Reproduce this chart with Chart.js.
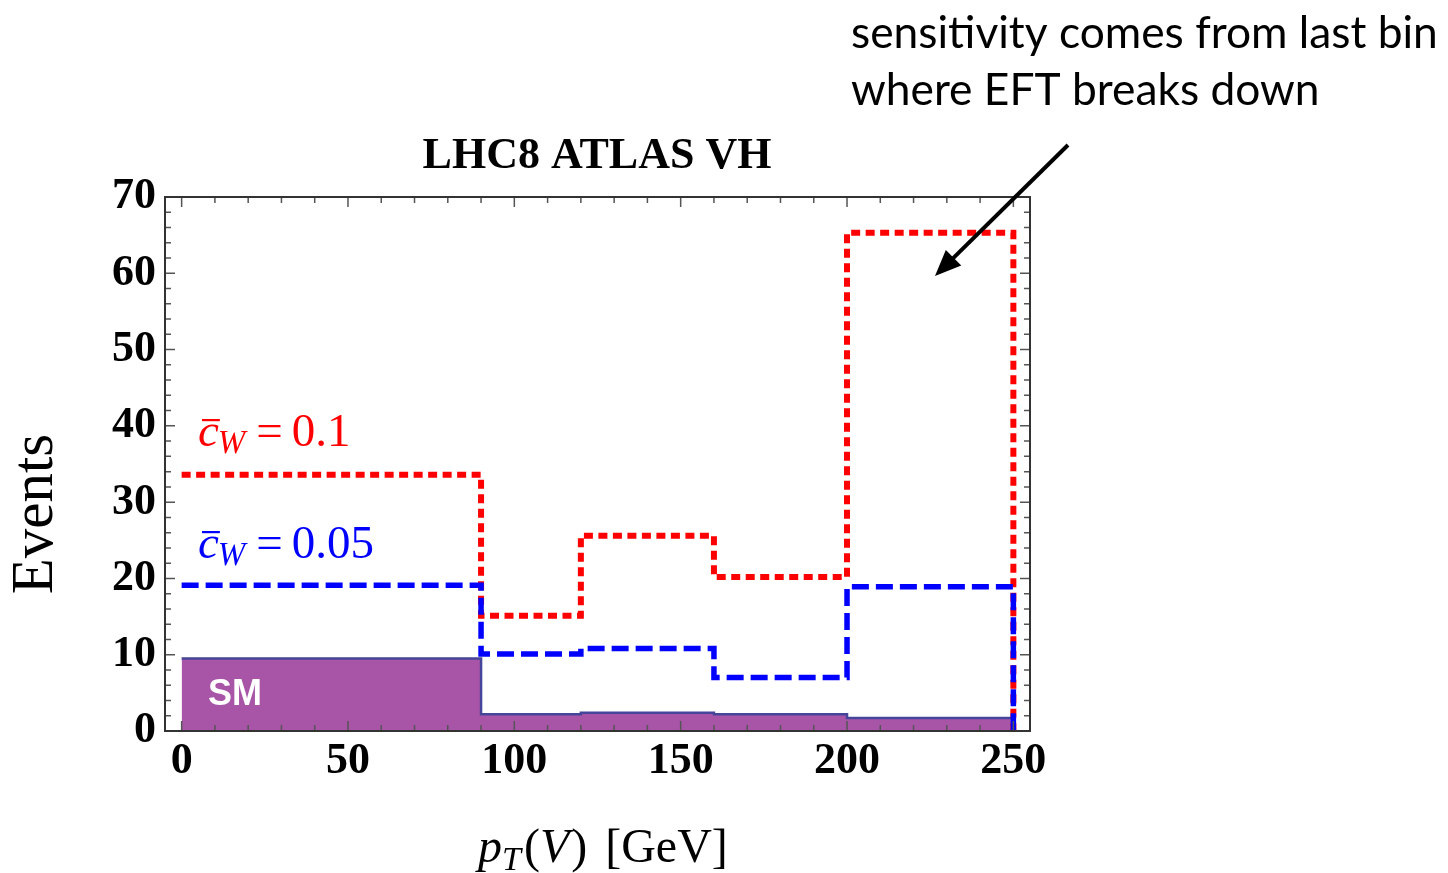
<!DOCTYPE html>
<html>
<head>
<meta charset="utf-8">
<script src="https://cdn.jsdelivr.net/npm/chart.js@4/dist/chart.umd.min.js"></script>
<style>
  body { margin: 0; background: #fff; }
  canvas { display: block; }
</style>
</head>
<body>
<canvas id="chart" width="1448" height="873"></canvas>
<script>
// bin edges in pT(V) [GeV]
const binEdges = [0, 90, 120, 160, 200, 250]
// events per bin
const smEvents = [9.5, 2.2, 2.4, 2.2, 1.7]
const cw01Events = [33.6, 15.1, 25.6, 20.2, 65.3]
const cw005Events = [19.1, 10.1, 10.8, 7.0, 18.9]
const xTicks = [0, 50, 100, 150, 200, 250]
const yTicks = [0, 10, 20, 30, 40, 50, 60, 70]

const serif = '"Liberation Serif", "Times New Roman", serif'

// step points: each bin value held until the next edge, then down to 0
const toSteps = values => {
  const pts = values.map((v, i) => ({ x: binEdges[i], y: v }))
  pts.push({ x: binEdges[binEdges.length - 1], y: 0 })
  return pts
}

const frameTicks = {
  id: 'frameTicks',
  afterDatasetsDraw(chart) {
    const { ctx, chartArea: a, scales } = chart
    const xs = scales.x
    const ys = scales.y
    ctx.save()
    ctx.strokeStyle = '#555'
    ctx.lineWidth = 1.5
    for (let v = 0; v <= 250; v += 10) {
      const px = xs.getPixelForValue(v)
      const len = v % 50 === 0 ? 10 : 6
      ctx.beginPath()
      ctx.moveTo(px, a.bottom)
      ctx.lineTo(px, a.bottom - len)
      ctx.moveTo(px, a.top)
      ctx.lineTo(px, a.top + len)
      ctx.stroke()
    }
    for (let v = 0; v <= 70; v += 2) {
      const py = ys.getPixelForValue(v)
      const len = v % 10 === 0 ? 10 : 6
      ctx.beginPath()
      ctx.moveTo(a.left, py)
      ctx.lineTo(a.left + len, py)
      ctx.moveTo(a.right, py)
      ctx.lineTo(a.right - len, py)
      ctx.stroke()
    }
    ctx.strokeStyle = '#333'
    ctx.lineWidth = 2
    ctx.strokeRect(a.left, a.top, a.right - a.left, a.bottom - a.top)
    ctx.restore()
  },
}

const drawCW = (ctx, x, y, val, color) => {
  ctx.fillStyle = color
  ctx.font = 'italic 47px ' + serif
  ctx.fillText('c', x, y)
  const w1 = ctx.measureText('c').width
  ctx.fillRect(x + 4, y - 27, w1 - 3, 2.2)
  ctx.font = 'italic 33px ' + serif
  ctx.fillText('W', x + w1 - 1, y + 7)
  const w2 = ctx.measureText('W').width
  ctx.font = '47px ' + serif
  let cx = x + w1 + w2 + 10
  ctx.fillText('=', cx, y)
  cx += ctx.measureText('=').width + 9
  ctx.fillText(val, cx, y)
}

const texts = {
  id: 'texts',
  afterDraw(chart) {
    const { ctx } = chart
    ctx.save()
    ctx.textBaseline = 'alphabetic'

    // title
    ctx.fillStyle = '#000'
    ctx.textAlign = 'center'
    ctx.font = 'bold 44px ' + serif
    ctx.fillText('LHC8 ATLAS VH', 597, 168)

    // y axis title
    ctx.save()
    ctx.translate(36, 514)
    ctx.rotate(-Math.PI / 2)
    ctx.textBaseline = 'middle'
    ctx.font = '59px ' + serif
    ctx.fillText('Events', 0, 0)
    ctx.restore()

    // x axis title: p_T(V) [GeV]
    ctx.textAlign = 'left'
    let x = 478
    const by = 862
    const piece = (t, font, dy) => {
      ctx.font = font
      ctx.fillText(t, x, by + (dy || 0))
      x += ctx.measureText(t).width
    }
    piece('p', 'italic 48px ' + serif)
    piece('T', 'italic 34px ' + serif, 8)
    x += 3
    piece('(', '48px ' + serif)
    piece('V', 'italic 48px ' + serif)
    x += 2
    piece(')', '48px ' + serif)
    x += 18
    piece('[GeV]', '48px ' + serif)

    // series labels
    drawCW(ctx, 198, 446, '0.1', '#f00')
    drawCW(ctx, 198, 558, '0.05', '#00f')

    // SM label
    ctx.fillStyle = '#fff'
    ctx.font = 'bold 36px "Liberation Sans", Arial, sans-serif'
    ctx.fillText('SM', 208, 705)

    // annotation
    ctx.fillStyle = '#000'
    const lines = ['sensitivity comes from last bin', 'where EFT breaks down']
    ctx.font = '40px Lato'
    const fs = 40 * 587 / ctx.measureText(lines[0]).width
    ctx.font = fs.toFixed(1) + 'px Lato'
    ctx.fillText(lines[0], 851, 48)
    ctx.fillText(lines[1], 851, 105)

    // arrow
    const x0 = 1068, y0 = 145, x1 = 935, y1 = 276
    const ang = Math.atan2(y1 - y0, x1 - x0)
    const hl = 26, hw = 11
    const bx = x1 - hl * Math.cos(ang)
    const byy = y1 - hl * Math.sin(ang)
    ctx.strokeStyle = '#000'
    ctx.lineWidth = 4
    ctx.beginPath()
    ctx.moveTo(x0, y0)
    ctx.lineTo(bx + 4 * Math.cos(ang), byy + 4 * Math.sin(ang))
    ctx.stroke()
    ctx.beginPath()
    ctx.moveTo(x1, y1)
    ctx.lineTo(bx + hw * Math.sin(ang), byy - hw * Math.cos(ang))
    ctx.lineTo(bx - hw * Math.sin(ang), byy + hw * Math.cos(ang))
    ctx.closePath()
    ctx.fill()

    ctx.restore()
  },
}

const ctx = document.getElementById('chart').getContext('2d')

const chart = new Chart(ctx, {
  type: 'line',
  data: {
    datasets: [
      {
        label: 'cW = 0.05',
        data: toSteps(cw005Events),
        stepped: true,
        borderColor: '#0000ff',
        borderWidth: 5.5,
        borderDash: [17, 7],
        borderCapStyle: 'butt',
        pointRadius: 0,
        fill: false,
      },
      {
        label: 'cW = 0.1',
        data: toSteps(cw01Events),
        stepped: true,
        borderColor: '#ff0000',
        borderWidth: 6,
        borderDash: [9, 5.5],
        borderCapStyle: 'butt',
        pointRadius: 0,
        fill: false,
      },
      {
        label: 'SM',
        data: toSteps(smEvents),
        stepped: true,
        borderColor: '#45469a',
        borderWidth: 2.5,
        backgroundColor: '#a855a8',
        pointRadius: 0,
        fill: 'origin',
      },
    ],
  },
  options: {
    responsive: false,
    animation: false,
    layout: { padding: { top: 197, right: 418, bottom: 0, left: 0 } },
    plugins: {
      legend: { display: false },
      tooltip: { enabled: false },
    },
    scales: {
      x: {
        type: 'linear',
        min: -5,
        max: 255,
        afterFit: s => { s.height = 142 },
        afterBuildTicks: s => { s.ticks = xTicks.map(v => ({ value: v })) },
        grid: { display: false, drawTicks: false },
        border: { display: false },
        ticks: {
          color: '#000',
          padding: 4,
          maxRotation: 0,
          autoSkip: false,
          font: { family: serif, size: 44, weight: 'bold' },
        },
      },
      y: {
        type: 'linear',
        min: 0,
        max: 70,
        afterFit: s => { s.width = 165 },
        afterBuildTicks: s => { s.ticks = yTicks.map(v => ({ value: v })) },
        grid: { display: false, drawTicks: false },
        border: { display: false },
        ticks: {
          color: '#000',
          padding: 9,
          autoSkip: false,
          font: { family: serif, size: 44, weight: 'bold' },
        },
      },
    },
  },
  plugins: [frameTicks, texts],
})
</script>
</body>
</html>
